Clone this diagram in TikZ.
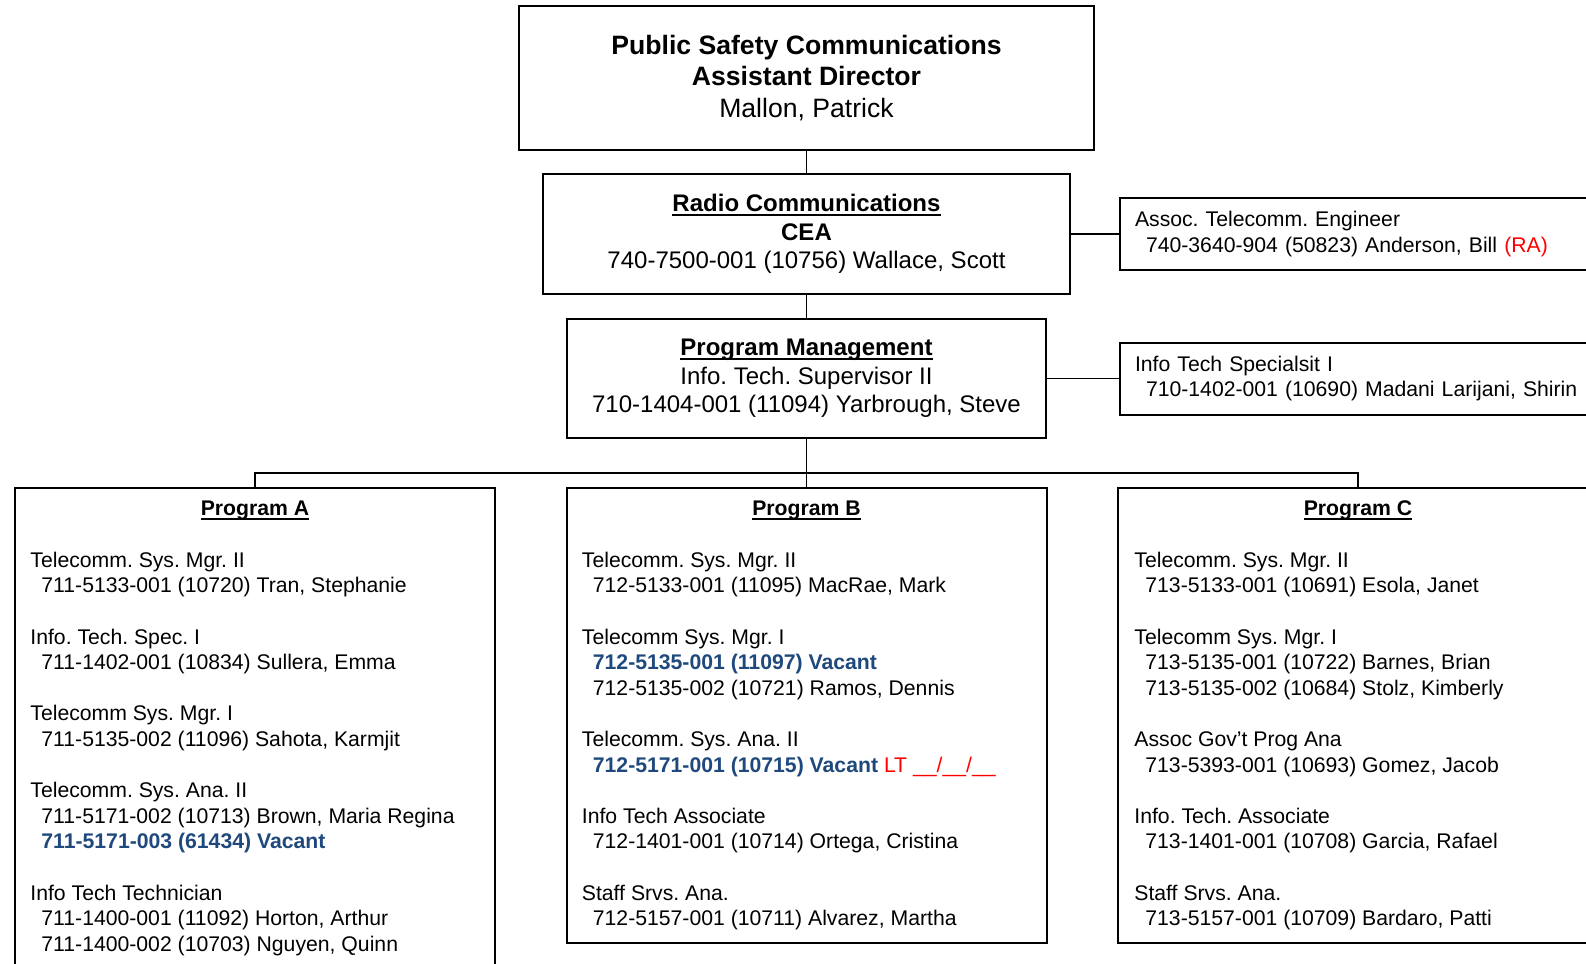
\documentclass[tikz,border=0pt]{standalone}
\usepackage{fontspec}
\setmainfont{Liberation Sans}
\frenchspacing
\definecolor{orgChartLine}{RGB}{0,0,0}
\definecolor{orgChartVacant}{RGB}{31,73,125}
\definecolor{orgChartNote}{RGB}{255,0,0}
\newsavebox{\headbox}
\newcommand{\headul}[1]{\sbox\headbox{#1}\rlap{\rule[-2pt]{\wd\headbox}{.75pt}}\usebox\headbox}
\newcommand{\posind}{\hspace*{5.5pt}}
\newcommand{\posvacant}[1]{{\color{orgChartVacant}\bfseries #1}}
\newcommand{\posnote}[1]{{\color{orgChartNote}#1}}
\begin{document}
\begin{tikzpicture}[x=.5pt,y=-.5pt,
      dirbox/.style={draw=orgChartLine, line width=1pt, align=center, inner sep=0pt,
        font=\fontsize{13.3}{15.9}\selectfont,
        minimum width=287.5pt, minimum height=72pt},
      midbox/.style={draw=orgChartLine, line width=1pt, align=center, inner sep=0pt,
        font=\fontsize{12}{14.3}\selectfont},
      sidebox/.style={draw=orgChartLine, line width=1pt, anchor=west, align=left,
        text width=225pt, inner xsep=7.5pt, inner ysep=0pt, minimum height=36pt,
        font=\fontsize{10.6}{12.8}\selectfont},
      progbox/.style={draw=orgChartLine, line width=1pt, anchor=north,
        minimum width=240pt, inner sep=0pt},
      progtitle/.style={anchor=base, inner sep=0pt,
        font=\fontsize{10.6}{12.8}\selectfont\bfseries},
      progtext/.style={anchor=north west, align=left, inner sep=0pt,
        font=\fontsize{10.6}{12.8}\selectfont},
      link/.style={draw=orgChartLine, line width=.8pt}]
      \useasboundingbox (0,0) rectangle (1586,964);
      \clip (0,0) rectangle (1586,964);

      \node[dirbox] (dir) at (806.5,78)
        {\textbf{Public Safety Communications}\\ \textbf{Assistant Director}\\ Mallon, Patrick};
      \node[midbox, minimum width=263.5pt, minimum height=60pt] (radio) at (806.5,234)
        {\headul{\textbf{Radio Communications}}\\ \textbf{CEA}\\ 740-7500-001 (10756) Wallace, Scott};
      \node[midbox, minimum width=239.5pt, minimum height=59.5pt] (pm) at (806.5,378.5)
        {\headul{\textbf{Program Management}}\\ Info. Tech. Supervisor II\\ 710-1404-001 (11094) Yarbrough, Steve};

      \node[sidebox] (assoc) at (1119,234)
        {Assoc. Telecomm. Engineer\\ \posind 740-3640-904 (50823) Anderson, Bill \posnote{(RA)}};
      \node[sidebox] (its) at (1119,378.5)
        {Info Tech Specialsit I\\ \posind 710-1402-001 (10690) Madani Larijani, Shirin};

      \node[progbox, minimum height=250pt] (progA) at (255,487) {};
      \node[progbox, minimum height=227.5pt] (progB) at (806.5,487) {};
      \node[progbox, minimum height=227.5pt] (progC) at (1358,487) {};

      \node[progtitle] (titleA) at (255,515.5) {\headul{Program A}};
      \node[progtitle] (titleB) at (806.5,515.5) {\headul{Program B}};
      \node[progtitle] (titleC) at (1358,515.5) {\headul{Program C}};

      \node[progtext] (staffA) at (30,551.5)
        {Telecomm. Sys. Mgr. II\\ \posind 711-5133-001 (10720) Tran, Stephanie\\[12.8pt]
         Info. Tech. Spec. I\\ \posind 711-1402-001 (10834) Sullera, Emma\\[12.8pt]
         Telecomm Sys. Mgr. I\\ \posind 711-5135-002 (11096) Sahota, Karmjit\\[12.8pt]
         Telecomm. Sys. Ana. II\\ \posind 711-5171-002 (10713) Brown, Maria Regina\\
         \posind\posvacant{711-5171-003 (61434) Vacant}\\[12.8pt]
         Info Tech Technician\\ \posind 711-1400-001 (11092) Horton, Arthur\\
         \posind 711-1400-002 (10703) Nguyen, Quinn};
      \node[progtext] (staffB) at (581.5,551.5)
        {Telecomm. Sys. Mgr. II\\ \posind 712-5133-001 (11095) MacRae, Mark\\[12.8pt]
         Telecomm Sys. Mgr. I\\ \posind\posvacant{712-5135-001 (11097) Vacant}\\
         \posind 712-5135-002 (10721) Ramos, Dennis\\[12.8pt]
         Telecomm. Sys. Ana. II\\
         \posind\posvacant{712-5171-001 (10715) Vacant} \posnote{LT \_\_/\_\_/\_\_}\\[12.8pt]
         Info Tech Associate\\ \posind 712-1401-001 (10714) Ortega, Cristina\\[12.8pt]
         Staff Srvs. Ana.\\ \posind 712-5157-001 (10711) Alvarez, Martha};
      \node[progtext] (staffC) at (1134,551.5)
        {Telecomm. Sys. Mgr. II\\ \posind 713-5133-001 (10691) Esola, Janet\\[12.8pt]
         Telecomm Sys. Mgr. I\\ \posind 713-5135-001 (10722) Barnes, Brian\\
         \posind 713-5135-002 (10684) Stolz, Kimberly\\[12.8pt]
         Assoc Gov’t Prog Ana\\ \posind 713-5393-001 (10693) Gomez, Jacob\\[12.8pt]
         Info. Tech. Associate\\ \posind 713-1401-001 (10708) Garcia, Rafael\\[12.8pt]
         Staff Srvs. Ana.\\ \posind 713-5157-001 (10709) Bardaro, Patti};

      \coordinate (bar) at (806.5,473);
      \draw[link] (dir) -- (radio);
      \draw[link] (radio) -- (pm);
      \draw[link] (radio.east) -- (assoc.west);
      \draw[link] (pm.east) -- (its.west);
      \draw[link] (pm) -- (progB);
      \draw[link] (progA.north) |- (bar) -| (progC.north);
    \end{tikzpicture}
\end{document}
